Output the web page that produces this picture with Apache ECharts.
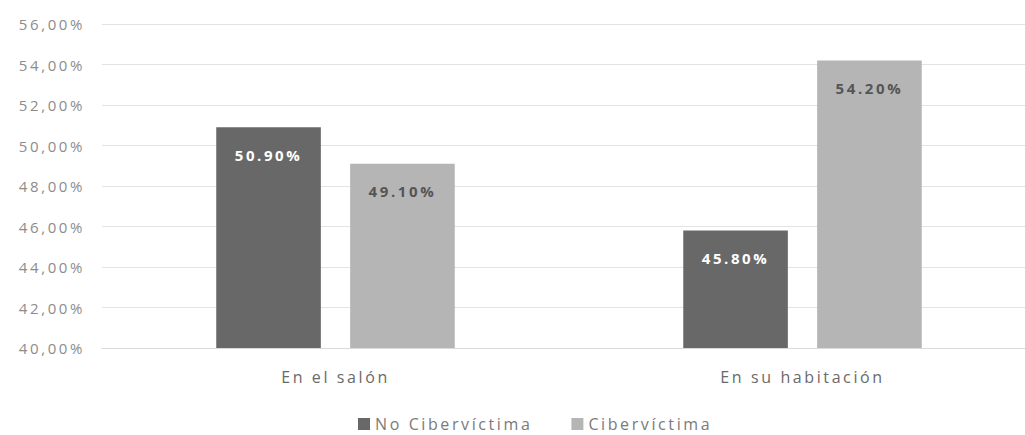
<!DOCTYPE html>
<html>
<head>
<meta charset="utf-8">
<script src="https://cdn.jsdelivr.net/npm/echarts@6/dist/echarts.min.js"></script>
<style>
  html, body { margin: 0; padding: 0; background: #fff; }
  #chart { width: 1025px; height: 435px; overflow: hidden; }
  /* wide, airy lettering for every label */
  #chart text { letter-spacing: 2.6px; }
</style>
</head>
<body>
<div id="chart"></div>
<script>
// Where the device is used, by cybervictimisation status (percent)
const categories = ['En el salón', 'En su habitación'];
const seriesNames = ['No Cibervíctima', 'Cibervíctima'];
const noCibervictima = [50.90, 45.80];
const cibervictima = [49.10, 54.20];

const fontFamily = '"Open Sans", "Noto Sans", sans-serif';

const chart = echarts.init(document.getElementById('chart'), null, { renderer: 'svg' });

function barLabel(color) {
  return {
    show: true,
    position: 'insideTop',
    distance: 20,
    color: color,
    fontFamily: fontFamily,
    fontWeight: 'bold',
    fontSize: 15,
    formatter: p => p.value.toFixed(2) + '%'
  };
}

chart.setOption({
  animation: false,
  backgroundColor: '#ffffff',
  // the plot runs past the right edge of the canvas
  grid: {
    left: 102, top: 24, width: 934, height: 324,
    containLabel: false,
    outerBoundsMode: 'none'
  },
  legend: {
    top: 416,
    left: 358,
    padding: 0,
    icon: 'rect',
    itemWidth: 12,
    itemHeight: 12,
    itemGap: 78,
    textStyle: { color: '#7a7a7a', fontFamily: fontFamily, fontSize: 16 },
    data: seriesNames
  },
  xAxis: {
    type: 'category',
    data: categories,
    axisLine: { show: true, lineStyle: { color: '#d9d9d9', width: 1 } },
    axisTick: { show: false },
    axisLabel: { color: '#6a6a6a', fontFamily: fontFamily, fontSize: 16, margin: 21 }
  },
  yAxis: {
    type: 'value',
    min: 40,
    max: 56,
    interval: 2,
    axisLine: { show: false },
    axisTick: { show: false },
    splitLine: { lineStyle: { color: '#e3e3e3', width: 1 } },
    axisLabel: {
      color: '#8c8c8c',
      fontFamily: fontFamily,
      fontSize: 15,
      margin: 17,
      formatter: v => v.toFixed(2).replace('.', ',') + '%'
    }
  },
  series: [
    {
      name: seriesNames[0],
      type: 'bar',
      data: noCibervictima,
      barWidth: '22.4%',
      barGap: '28%',
      itemStyle: { color: '#686868' },
      label: barLabel('#ffffff')
    },
    {
      name: seriesNames[1],
      type: 'bar',
      data: cibervictima,
      barWidth: '22.4%',
      itemStyle: { color: '#b5b5b5' },
      label: barLabel('#555555')
    }
  ]
});
</script>
</body>
</html>
